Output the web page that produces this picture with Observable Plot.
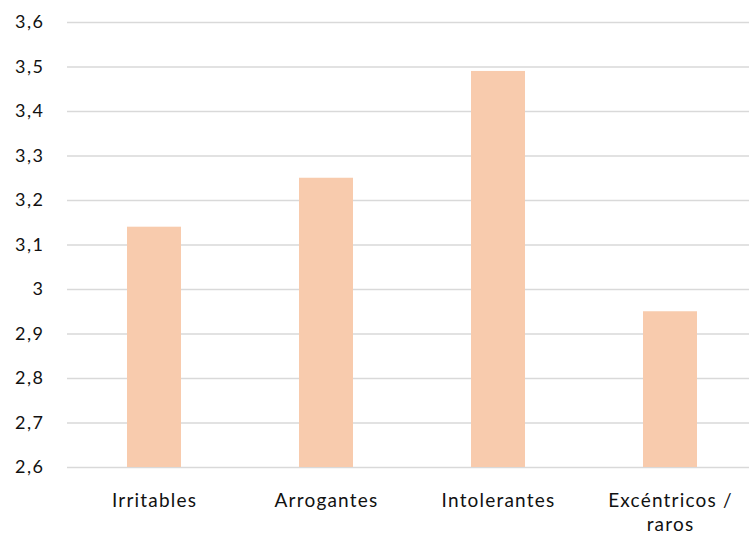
<!DOCTYPE html>
<html>
<head>
<meta charset="utf-8">
<script src="https://cdn.jsdelivr.net/npm/d3@7"></script>
<script src="https://cdn.jsdelivr.net/npm/@observablehq/plot@0.6"></script>
<style>
  html, body { margin: 0; padding: 0; background: #fff; overflow: hidden; }
  #chart { width: 749px; height: 536px; overflow: hidden; }
  #chart svg { max-width: none !important; }
  svg text { letter-spacing: 1.5px; }
  svg g[aria-label="x-axis tick label"] text { letter-spacing: 1.2px; }
</style>
</head>
<body>
<div id="chart"></div>
<script>
const categories = ["Irritables", "Arrogantes", "Intolerantes", "Excéntricos /\nraros"];
const values = [3.14, 3.25, 3.49, 2.95];
const yTicks = [2.6, 2.7, 2.8, 2.9, 3.0, 3.1, 3.2, 3.3, 3.4, 3.5, 3.6];
const yMin = 2.6, yMax = 3.6;

const data = categories.map((c, i) => ({ category: c, value: values[i] }));

const chart = Plot.plot({
  width: 758,
  height: 536,
  marginLeft: 67,
  marginRight: 0,
  marginTop: 22,
  marginBottom: 69,
  style: { fontFamily: "Lato, sans-serif", fontSize: "18px", color: "#111", background: "#fff", maxWidth: "none" },
  x: { domain: categories, paddingInner: 0.684, paddingOuter: 0.342, align: 0.5, label: null },
  y: { domain: [yMin, yMax], label: null },
  marks: [
    Plot.ruleY(yTicks, { stroke: "#d9d9d9", strokeWidth: 1.3 }),
    Plot.barY(data, { x: "category", y1: () => yMin, y2: "value", fill: "#f8cbad" }),
    Plot.axisY({ ticks: yTicks, tickSize: 0, tickPadding: 23, fontSize: 18, tickFormat: d => d3.format(".1f")(d).replace(".", ",").replace(/,0$/, ""), label: null, fill: "#111" }),
    Plot.axisX({ tickSize: 0, tickPadding: 22, fontSize: 19, label: null, lineHeight: 1.28, fill: "#111" })
  ]
});
document.getElementById("chart").appendChild(chart);
</script>
</body>
</html>
